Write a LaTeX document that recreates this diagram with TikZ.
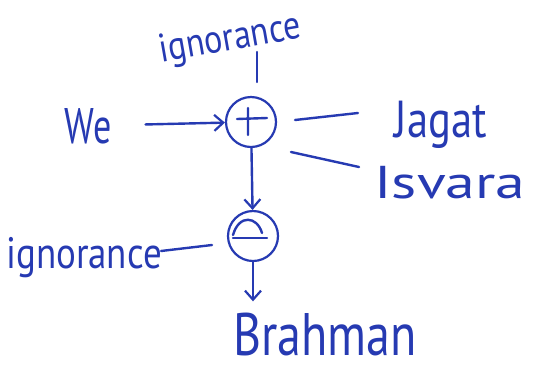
\documentclass[tikz,border=0pt]{standalone}
\usepackage{fontspec}
\setmainfont{PT Sans}
\usetikzlibrary{arrows.meta,calc}
\definecolor{ink}{RGB}{38,58,178}
\newcommand{\hand}[3]{\fontsize{#1}{#1}\selectfont\scalebox{#2}[1]{#3}}
\begin{document}
\begin{tikzpicture}[x=1pt,y=-1pt,
  inkline/.style={draw=ink, line width=2.4pt, line cap=round, line join=round},
  arr/.style={inkline, -{Straight Barb[length=9pt,width=16pt,line width=2.2pt]}},
  opcircle/.style={circle, draw=ink, line width=2.2pt, minimum size=50pt, inner sep=0pt},
  word/.style={text=ink, inner sep=1pt},
]
\useasboundingbox[fill=white] (0,0) rectangle (537,368);

% words
\node[word, anchor=base, rotate=10] (itop) at (232,50) {\hand{40}{0.85}{ignorance}};
\node[word, anchor=base] (we) at (88,143) {\hand{50}{0.72}{We}};
\node[word, anchor=base] (jagat) at (441,137) {\hand{52}{0.82}{Jagat}};
\node[word, anchor=base] (isvara) at (450,198) {\hand{46}{1.3}{Isvara}};
\node[word, anchor=base] (ileft) at (84,268) {\hand{44}{0.84}{ignorance}};
\node[word, anchor=base] (brahman) at (325,355) {\hand{60}{0.8}{Brahman}};

% operators
\node[opcircle] (plus) at (251,122) {};
\node[opcircle] (minus) at (253,236) {};
\draw[inkline] ($(plus)+(-14,-3)$) -- ($(plus)+(16,-4)$)
               ($(plus)+(-3,-14)$) -- ($(plus)+(-3,13)$);
\draw[inkline] ($(minus)+(-20,-1)$) .. controls ($(minus)+(-14,-22)$) and ($(minus)+(4,-20)$) .. ($(minus)+(9,-3)$);
\draw[inkline] ($(minus)+(-20,2)$) -- ($(minus)+(14,2)$);

% connectors
\draw[inkline] ($(plus)+(6,-70)$) -- ($(plus)+(6,-40)$);
\draw[arr, shorten <=33pt] (we) -- (plus);
\draw[inkline] ($(plus)+(44,-2)$) -- ($(plus)+(107,-9)$);
\draw[inkline] ($(plus)+(40,30)$) -- ($(plus)+(108,45)$);
\draw[arr] (plus) -- (minus);
\draw[inkline] ($(minus)+(-92,15)$) -- ($(minus)+(-41,9)$);
\draw[arr, shorten >=10pt] (minus.south) -- (minus.south |- brahman.north);
\end{tikzpicture}
\end{document}
